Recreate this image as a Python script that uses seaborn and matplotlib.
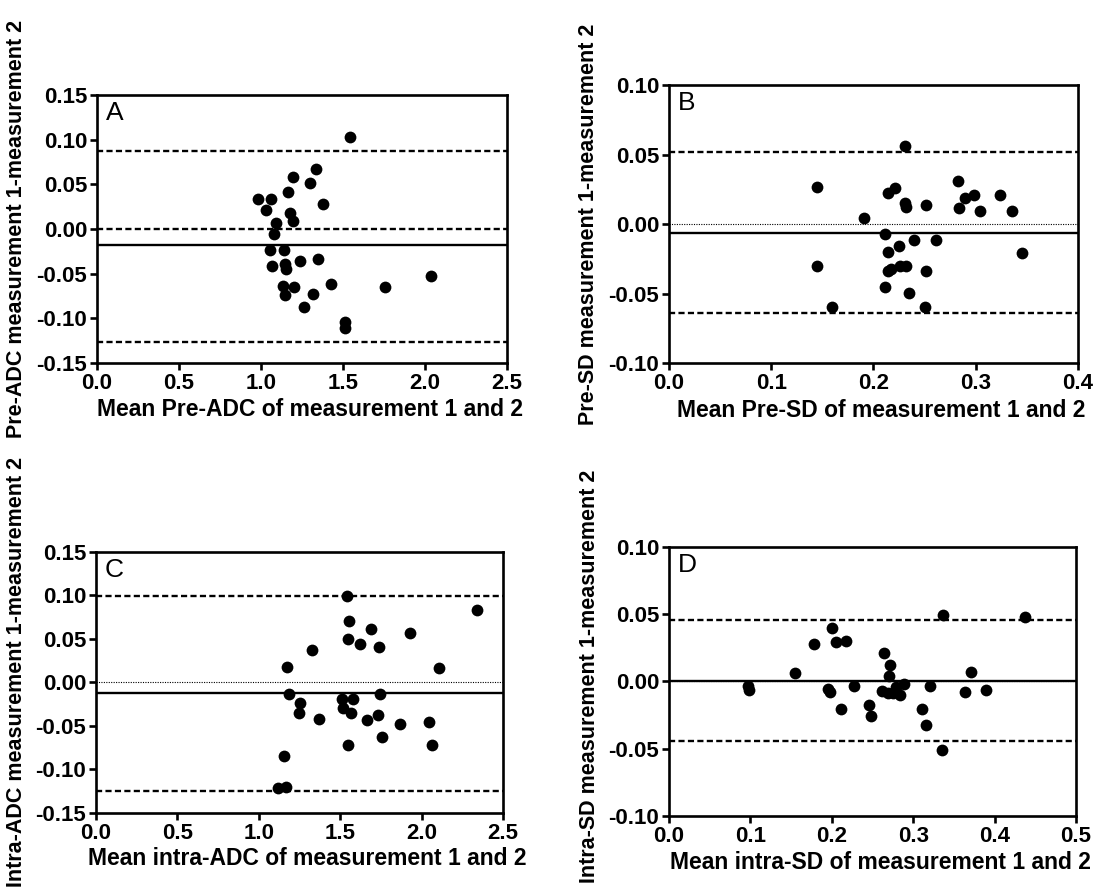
import numpy as np
import pandas as pd
import matplotlib
matplotlib.use("Agg")
import matplotlib.pyplot as plt
import seaborn as sns

# Panel A: Pre-ADC
a_mean = [1.541, 1.337, 1.195, 1.301, 0.980, 1.061, 1.165, 1.378, 1.030, 1.175,
          1.193, 1.089, 1.077, 1.053, 1.142, 1.348, 1.238, 1.148, 1.152, 1.067,
          1.429, 1.758, 2.039, 1.134, 1.199, 1.148, 1.317, 1.262, 1.514, 1.510]
a_diff = [0.1035, 0.0672, 0.0586, 0.0519, 0.0332, 0.034, 0.0415, 0.0276, 0.0209, 0.0176,
          0.0086, 0.0071, -0.0056, -0.0239, -0.0232, -0.034, -0.0362, -0.0392, -0.0448, -0.0418,
          -0.0616, -0.065, -0.0527, -0.0643, -0.065, -0.074, -0.0728, -0.0878, -0.1038, -0.1113]
a_lines = {"bias": -0.0179, "upper": 0.0878, "lower": -0.1266}

# Panel B: Pre-SD
b_mean = [0.2306, 0.145, 0.2827, 0.2215, 0.2143, 0.2306, 0.2322, 0.2511, 0.2892, 0.298,
          0.3235, 0.2837, 0.3039, 0.3358, 0.1909, 0.2117, 0.2397, 0.2616, 0.2251, 0.2143,
          0.3450, 0.145, 0.2143, 0.2176, 0.2257, 0.2316, 0.2511, 0.2111, 0.2349, 0.1599, 0.2502]
b_diff = [0.0564, 0.0267, 0.031, 0.0259, 0.0221, 0.0149, 0.0125, 0.0137, 0.019, 0.0206,
          0.0206, 0.0113, 0.0096, 0.0096, 0.0041, -0.007, -0.0113, -0.0113, -0.0161, -0.0199,
          -0.0209, -0.0303, -0.0341, -0.0324, -0.0303, -0.0303, -0.0341, -0.0451, -0.0499, -0.06, -0.06]
b_lines = {"bias": -0.0065, "upper": 0.0516, "lower": -0.0639}

# Panel C: intra-ADC
c_mean = [1.539, 2.341, 1.556, 1.688, 1.928, 1.549, 1.621, 1.740, 1.325, 1.171,
          2.108, 1.188, 1.744, 1.509, 1.580, 1.253, 1.515, 1.249, 1.566, 1.733,
          1.372, 1.662, 1.870, 2.044, 1.754, 1.549, 2.067, 1.157, 1.167, 1.120]
c_diff = [0.0992, 0.0828, 0.0705, 0.0617, 0.0563, 0.0494, 0.0437, 0.0402, 0.0375, 0.018,
          0.0172, -0.013, -0.013, -0.0195, -0.0195, -0.0241, -0.0299, -0.0356, -0.0349, -0.0375,
          -0.0421, -0.0429, -0.0475, -0.0452, -0.0625, -0.0713, -0.0724, -0.0843, -0.1199, -0.1218]
c_lines = {"bias": -0.0126, "upper": 0.0992, "lower": -0.1249}

# Panel D: intra-SD
d_mean = [0.3362, 0.4373, 0.1998, 0.1781, 0.2048, 0.2170, 0.2641, 0.2715, 0.3710, 0.1552,
          0.2707, 0.0966, 0.0983, 0.1957, 0.1978, 0.2273, 0.2891, 0.3206, 0.2613, 0.2695,
          0.2756, 0.2789, 0.2838, 0.3636, 0.3894, 0.2109, 0.2457, 0.2477, 0.3104, 0.3157, 0.3354]
d_diff = [0.0493, 0.0483, 0.0394, 0.0282, 0.0292, 0.0304, 0.0215, 0.0121, 0.0074, 0.0062,
          0.004, -0.0032, -0.0064, -0.0059, -0.0077, -0.0035, -0.0022, -0.0035, -0.0069, -0.0089,
          -0.0089, -0.004, -0.0101, -0.0077, -0.0064, -0.0205, -0.0176, -0.0255, -0.0205, -0.0324, -0.0507]
d_lines = {"bias": 0.0005, "upper": 0.0455, "lower": -0.0441}

sns.set_style("ticks")
plt.rcParams['font.family'] = ['Liberation Sans', 'DejaVu Sans']
plt.rcParams['text.color'] = 'black'
plt.rcParams['axes.labelcolor'] = 'black'

fig = plt.figure(figsize=(11.03, 8.92), dpi=100)

panels = [
    ("A", a_mean, a_diff, a_lines, [0.0879, 0.593, 0.3717, 0.3004],
     np.arange(0, 2.51, 0.5), np.arange(-0.15, 0.151, 0.05),
     "Mean Pre-ADC of measurement 1 and 2", "Pre-ADC measurement 1-measurement 2", True, 0.5),
    ("B", b_mean, b_diff, b_lines, [0.6065, 0.593, 0.3708, 0.3117],
     np.arange(0, 0.41, 0.1), np.arange(-0.10, 0.101, 0.05),
     "Mean Pre-SD of measurement 1 and 2", "Pre-SD measurement 1-measurement 2", False, 0.5),
    ("C", c_mean, c_diff, c_lines, [0.087, 0.0886, 0.369, 0.2926],
     np.arange(0, 2.51, 0.5), np.arange(-0.15, 0.151, 0.05),
     "Mean intra-ADC of measurement 1 and 2", "Intra-ADC measurement 1-measurement 2", False, 0.54),
    ("D", d_mean, d_diff, d_lines, [0.6065, 0.0852, 0.369, 0.3016],
     np.arange(0, 0.51, 0.1), np.arange(-0.10, 0.101, 0.05),
     "Mean intra-SD of measurement 1 and 2", "Intra-SD measurement 1-measurement 2", False, 0.52),
]

for letter, xm, yd, lines, pos, xt, yt, xlab, ylab, dashed_zero, ly in panels:
    ax = fig.add_axes(pos)
    df = pd.DataFrame({"mean": xm, "diff": yd})
    sns.scatterplot(data=df, x="mean", y="diff", ax=ax, color="black", s=72,
                    edgecolor="black", linewidth=0, zorder=3)
    dash = dict(color="black", lw=1.7, dashes=(2.6, 1.4))
    ax.axhline(lines["upper"], **dash)
    ax.axhline(lines["lower"], **dash)
    if dashed_zero:
        ax.axhline(0, **dash)
    else:
        ax.axhline(0, color="black", lw=0.8, dashes=(1, 1.2))
    ax.axhline(lines["bias"], color="black", lw=1.7)

    ax.set_xlim(xt[0], xt[-1])
    ax.set_ylim(yt[0], yt[-1])
    ax.set_xticks(xt)
    ax.set_yticks(yt)
    ax.set_xticklabels(["%.1f" % v for v in xt])
    ax.set_yticklabels([("%.2f" % v).replace("-0.00", "0.00") for v in yt])
    for s in ax.spines.values():
        s.set_visible(True)
        s.set_linewidth(1.9)
        s.set_color("black")
    ax.tick_params(direction="out", length=5, width=1.9, colors="black",
                   labelsize=16, pad=2)
    for t in ax.get_xticklabels() + ax.get_yticklabels():
        t.set_fontweight("bold")
    ax.set_xlabel(xlab, fontsize=16.5, fontweight="bold", color="black")
    ax.set_ylabel(ylab, fontsize=15.5, fontweight="bold", color="black")
    ax.yaxis.set_label_coords(-0.17, ly)
    ax.xaxis.set_label_coords(0.52, -0.13)
    ax.text(0.022, 0.978, letter, transform=ax.transAxes, fontsize=19,
            ha="left", va="top", color="black")

fig.savefig("out.png", dpi=100)
